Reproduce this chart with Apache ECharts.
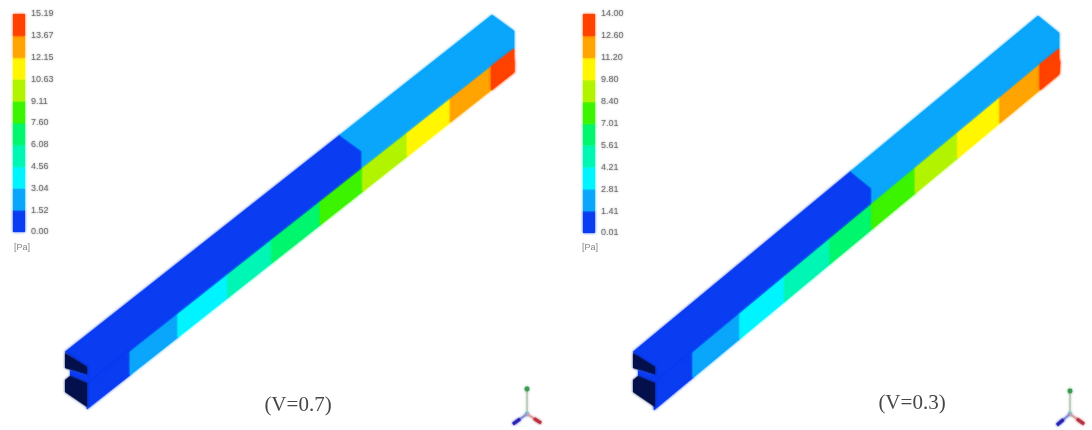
<!DOCTYPE html>
<html>
<head>
<meta charset="utf-8">
<style>
html,body{margin:0;padding:0;background:#fff;overflow:hidden}
#c{width:1092px;height:430px}
</style>
<script src="https://cdn.jsdelivr.net/npm/echarts@6/dist/echarts.min.js"></script>
</head>
<body>
<div id="c"></div>
<script>
// ---- data ----
var captions = ['(V=0.7)', '(V=0.3)'];
var unitLabel = '[Pa]';
var ticksA = ['0.00','1.52','3.04','4.56','6.08','7.60','9.11','10.63','12.15','13.67','15.19'];
var ticksB = ['0.01','1.41','2.81','4.21','5.61','7.01','8.40','9.80','11.20','12.60','14.00'];
var bandColors = ['#0a3cf2','#0aa6fb','#00f4ff','#00f6b4','#00f66c','#3cf400','#b2f400','#fff600','#ffa400','#ff4200'];

// fractions along the duct where each pressure zone starts, and the zone pressure
var upperStartsA = [0, 0.644];
var upperPaA     = [0.76, 2.28];
var lowerStartsA = [0, 0.101, 0.213, 0.330, 0.433, 0.546, 0.646, 0.750, 0.851, 0.948];
var lowerPaA     = [0.76, 2.28, 3.80, 5.32, 6.84, 8.36, 9.87, 11.39, 12.91, 14.43];

var upperStartsB = [0, 0.538];
var upperPaB     = [0.71, 2.11];
var lowerStartsB = [0, 0.096, 0.212, 0.323, 0.435, 0.538, 0.645, 0.750, 0.854, 0.954];
var lowerPaB     = [0.71, 2.11, 3.51, 4.91, 6.31, 7.71, 9.10, 10.50, 11.90, 13.30];

// ---- layout of the two isometric views ----
var views = [
  {o:[65,352], run:[427,-337], e1:[22,16], e2:[22,34], e3:[22,57], ticks:ticksA,
   upS:upperStartsA, upP:upperPaA, loS:lowerStartsA, loP:lowerPaA},
  {o:[633,352], run:[405,-336], e1:[21,17], e2:[21,33], e3:[21,58], ticks:ticksB,
   upS:upperStartsB, upP:upperPaB, loS:lowerStartsB, loP:lowerPaB}
];
var capUpper = [[0,1],[22,15],[22,23],[0,16]];
var capStrip = [[5,18],[22,23],[22,31],[5,24]];
var capLower = [[0,28],[5,24],[22,31],[22,55],[0,40]];
var lip = [[18,38],[22,46]];
var navy = '#03104c';
var soft = 2.5;
var inkText = 'rgba(80,80,80,0.72)';
var inkGlow = 'rgba(90,90,90,0.9)';

function bandOf(view, pa){
  var i, t = view.ticks;
  for(i=0;i<t.length-1;i++){ if(pa<parseFloat(t[i+1])) return i; }
  return t.length-2;
}
function pt(view, off, t){
  return [view.o[0]+off[0]+view.run[0]*t, view.o[1]+off[1]+view.run[1]*t];
}

// rows: view, face (0 upper, 1 lower, 2 tip lip), t0, t1, pressure
var rows = [];
views.forEach(function(v,vi){
  v.upS.forEach(function(s,i){
    rows.push([vi,0,s,i+1<v.upS.length?v.upS[i+1]:1,v.upP[i]]);
  });
  v.loS.forEach(function(s,i){
    rows.push([vi,1,s,i+1<v.loS.length?v.loS[i+1]:1,v.loP[i]]);
  });
  var n=v.loS.length-1;
  rows.push([vi,2,v.loS[n],1,v.loP[n]]);
});

function ductItem(params, api){
  var v = views[api.value(0)], face = api.value(1), t0 = api.value(2), t1 = api.value(3);
  var color = bandColors[bandOf(v, api.value(4))];
  var p;
  if(face===0){
    p=[pt(v,[0,0],t0),pt(v,[0,0],t1),pt(v,v.e1,t1),pt(v,v.e2,t1),pt(v,v.e2,t0),pt(v,v.e1,t0)];
  } else if(face===1){
    p=[pt(v,v.e2,t0),pt(v,v.e2,t1),pt(v,v.e3,t1),pt(v,v.e3,t0)];
  } else {
    p=[pt(v,v.e2,t0),pt(v,lip[0],1),pt(v,lip[1],1),pt(v,v.e3,1),pt(v,v.e3,t0)];
  }
  p=p.map(function(q){return api.coord(q);});
  return {type:'polygon',shape:{points:p},
    style:{fill:color,stroke:color,lineWidth:0.6,shadowColor:color,shadowBlur:soft}};
}

// near-end faces, drawn over the ducts
var capRows = [[0,0],[0,1],[0,2],[1,0],[1,1],[1,2]];
function capItem(params, api){
  var v = views[api.value(0)], k = api.value(1);
  var shape = [capUpper,capStrip,capLower][k];
  var p = shape.map(function(o){return api.coord(pt(v,o,0));});
  var color = k===1 ? bandColors[0] : navy;
  return {type:'polygon',shape:{points:p},style:{fill:color,shadowColor:color,shadowBlur:soft}};
}

function legendItem(view){
  return function(params, api){
    var i = api.value(0);
    var a = api.coord([0,i]), b = api.coord([1,i+1]);
    return {type:'rect',shape:{x:a[0],y:b[1],width:b[0]-a[0],height:a[1]-b[1]},
            style:{fill:bandColors[i],shadowColor:bandColors[i],shadowBlur:soft}};
  };
}
var bandRows = bandColors.map(function(c,i){return [i];});

function legendAxisY(view, gi){
  return {type:'value',gridIndex:gi,min:0,max:10,interval:1,position:'right',
    axisLine:{show:false},axisTick:{show:false},splitLine:{show:false},
    axisLabel:{margin:6,fontSize:9,color:inkText,fontFamily:'Liberation Sans',
      textShadowColor:inkGlow,textShadowBlur:2,
      showMinLabel:true,showMaxLabel:true,
      formatter:function(x){return view.ticks[Math.round(x)];}}};
}
function hiddenX(gi,max){return {type:'value',gridIndex:gi,min:0,max:max,show:false};}

// axis triads
function seg(x1,y1,x2,y2,color,w){
  return {type:'line',shape:{x1:x1,y1:y1,x2:x2,y2:y2},
    style:{stroke:color,lineWidth:w,shadowColor:color,shadowBlur:soft}};
}
function triad(cx,cy,top,blue,red){
  return [
    seg(cx,cy,top[0],top[1],'#c3cfc3',2),
    {type:'circle',shape:{cx:top[0],cy:top[1],r:2.4},style:{fill:'#3f9a52',shadowColor:'#3f9a52',shadowBlur:soft}},
    {type:'circle',shape:{cx:cx,cy:cy,r:2.2},style:{fill:'#74c9d6',shadowColor:'#74c9d6',shadowBlur:soft}},
    seg(cx,cy,blue[0],blue[1],'#8890d8',2),
    seg((cx+blue[0])/2,(cy+blue[1])/2,blue[0],blue[1],'#2a26b8',3),
    seg(cx,cy,red[0],red[1],'#d8a0a0',2),
    seg((cx+red[0])/2,(cy+red[1])/2,red[0],red[1],'#b8323f',3)
  ];
}
function label(text,x,y,size,color,family,blur){
  return {type:'text',x:x,y:y,style:{text:text,fontSize:size,fill:color,fontFamily:family,
          textAlign:'center',textVerticalAlign:'middle',shadowColor:inkGlow,shadowBlur:blur}};
}

var chart = echarts.init(document.getElementById('c'),null,{renderer:'canvas'});
chart.setOption({
  animation:false,
  backgroundColor:'#ffffff',
  grid:[
    {left:0,top:0,width:1092,height:430},
    {left:13,top:14,width:12,height:218},
    {left:583,top:14,width:12,height:219}
  ],
  xAxis:[hiddenX(0,1092),hiddenX(1,1),hiddenX(2,1)],
  yAxis:[
    {type:'value',gridIndex:0,min:0,max:430,inverse:true,show:false},
    legendAxisY(views[0],1),
    legendAxisY(views[1],2)
  ],
  series:[
    {type:'custom',xAxisIndex:0,yAxisIndex:0,data:rows,renderItem:ductItem,clip:false,silent:true},
    {type:'custom',xAxisIndex:0,yAxisIndex:0,data:capRows,renderItem:capItem,clip:false,silent:true},
    {type:'custom',xAxisIndex:1,yAxisIndex:1,data:bandRows,renderItem:legendItem(views[0]),silent:true},
    {type:'custom',xAxisIndex:2,yAxisIndex:2,data:bandRows,renderItem:legendItem(views[1]),silent:true}
  ],
  graphic:{elements:[
    label(unitLabel,22,248,9,inkText,'Liberation Sans',2),
    label(unitLabel,590,248,9,inkText,'Liberation Sans',2),
    label(captions[0],298,405,21,'rgba(50,50,50,0.9)','Liberation Serif',2),
    label(captions[1],912,403,21,'rgba(50,50,50,0.9)','Liberation Serif',2)
  ].concat(triad(527,414,[527,389],[513,424],[541,423]))
   .concat(triad(1070,414,[1070,391],[1057,425],[1084,424]))}
});
</script>
</body>
</html>
